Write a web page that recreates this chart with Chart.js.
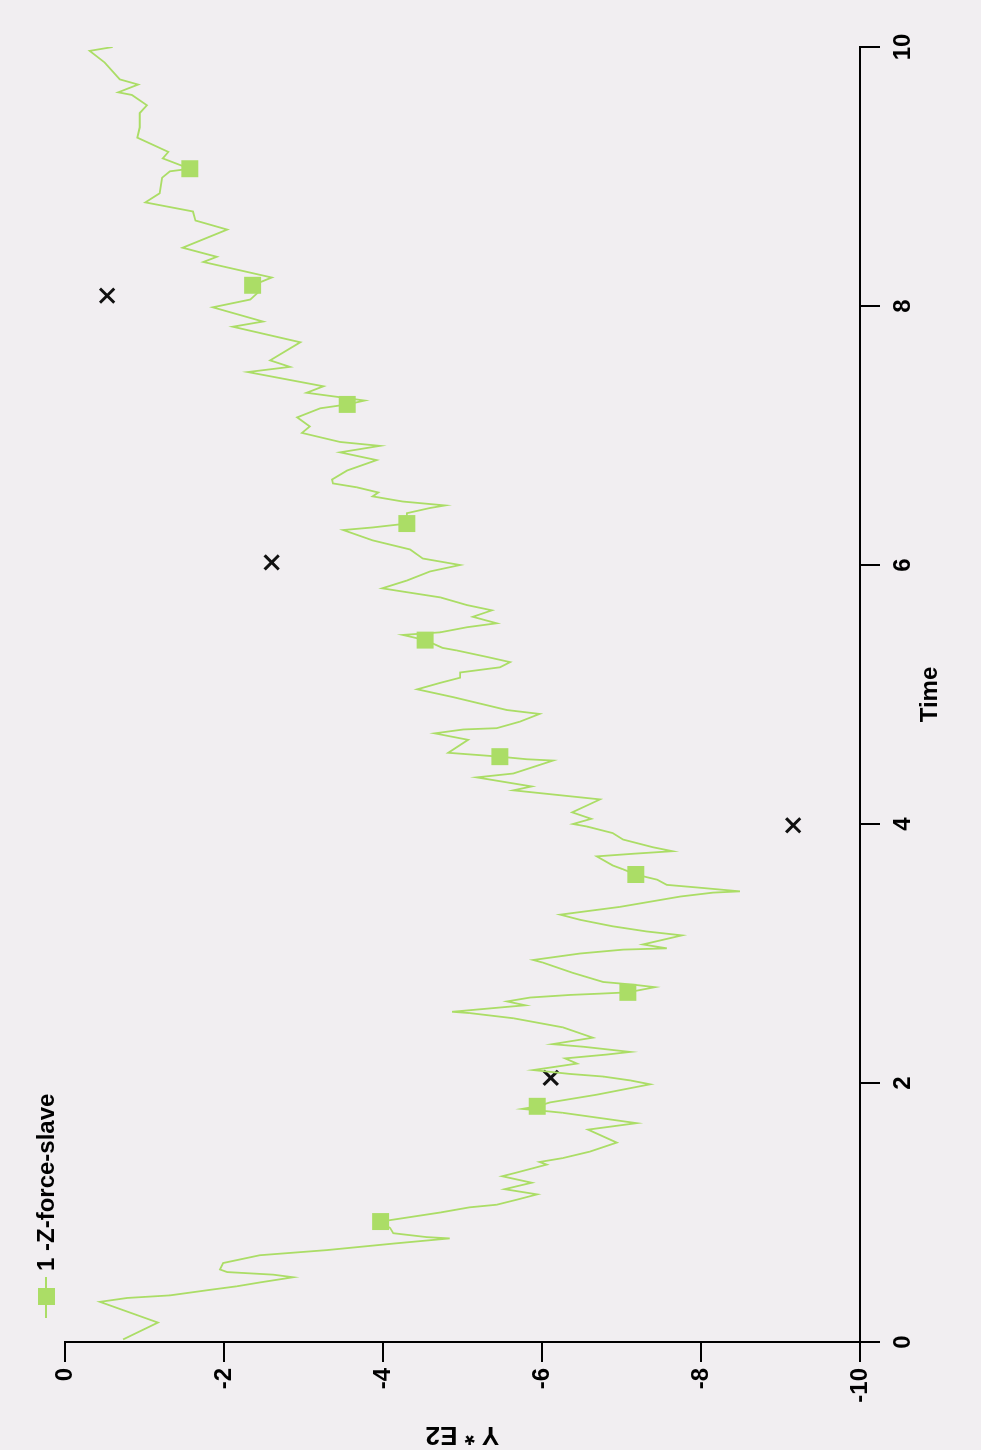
<!DOCTYPE html>
<html>
<head>
<meta charset="utf-8">
<script src="https://cdn.jsdelivr.net/npm/chart.js@4.4.1/dist/chart.umd.min.js"></script>
<style>
  html, body { margin: 0; padding: 0; background: #f1eef1; overflow: hidden; }
  /* the chart is drawn upright and then turned a quarter turn, like the scan */
  #wrap {
    position: absolute; left: 0; top: 0;
    width: 1450px; height: 981px;
    transform-origin: 0 0;
    transform: translate(0, 1450px) rotate(-90deg);
  }
</style>
</head>
<body>
<div id="wrap"><canvas id="forceChart" width="1450" height="981"></canvas></div>
<script>
// series "1 -Z-force-slave": time and Y * E2
const timeVals = [0.02, 0.15, 0.31, 0.34, 0.36, 0.40, 0.43, 0.46, 0.50, 0.52, 0.54, 0.56, 0.61, 0.67, 0.71, 0.76, 0.80, 0.81, 0.84, 0.88,
  0.93, 1.00, 1.04, 1.06, 1.10, 1.14, 1.18, 1.23, 1.28, 1.31, 1.37, 1.39, 1.42, 1.47, 1.54, 1.64, 1.69, 1.77, 1.78, 1.80,
  1.82, 1.85, 1.91, 1.99, 2.02, 2.05, 2.07, 2.10, 2.15, 2.19, 2.22, 2.24, 2.28, 2.30, 2.35, 2.43, 2.50, 2.54, 2.55, 2.59,
  2.60, 2.63, 2.66, 2.68, 2.69, 2.70, 2.74, 2.76, 2.78, 2.85, 2.93, 2.95, 3.00, 3.03, 3.04, 3.07, 3.14, 3.17, 3.21, 3.26,
  3.30, 3.36, 3.44, 3.47, 3.48, 3.51, 3.53, 3.57, 3.61, 3.65, 3.68, 3.75, 3.77, 3.79, 3.82, 3.88, 3.93, 3.98, 4.00, 4.04,
  4.09, 4.19, 4.26, 4.29, 4.36, 4.39, 4.49, 4.50, 4.52, 4.55, 4.65, 4.70, 4.73, 4.74, 4.79, 4.85, 4.88, 4.93, 4.98, 5.04,
  5.09, 5.13, 5.17, 5.19, 5.21, 5.25, 5.29, 5.34, 5.36, 5.42, 5.46, 5.48, 5.52, 5.55, 5.60, 5.65, 5.69, 5.75, 5.79, 5.82,
  5.88, 5.95, 6.00, 6.05, 6.12, 6.19, 6.27, 6.29, 6.32, 6.40, 6.44, 6.46, 6.49, 6.53, 6.56, 6.60, 6.63, 6.66, 6.73, 6.81,
  6.87, 6.92, 6.95, 7.02, 7.07, 7.14, 7.21, 7.24, 7.27, 7.33, 7.38, 7.49, 7.53, 7.58, 7.72, 7.84, 7.88, 7.99, 8.05, 8.10,
  8.16, 8.22, 8.34, 8.38, 8.45, 8.59, 8.66, 8.73, 8.80, 8.87, 8.99, 9.04, 9.06, 9.14, 9.19, 9.30, 9.38, 9.49, 9.55, 9.63,
  9.65, 9.71, 9.75, 9.88, 9.97, 10.00];
const forceVals = [-0.73, -1.17, -0.44, -0.78, -1.32, -1.79, -2.16, -2.45, -2.87, -2.62, -2.04, -1.95, -1.99, -2.45, -3.30, -4.13, -4.84, -4.55, -4.13, -4.09,
  -3.97, -4.72, -5.09, -5.43, -5.69, -5.94, -5.53, -5.87, -5.50, -5.69, -6.06, -5.97, -6.26, -6.60, -6.94, -6.58, -7.19, -6.26, -6.10, -5.75,
  -5.94, -6.10, -6.69, -7.36, -7.11, -6.77, -6.35, -5.89, -6.44, -6.29, -6.82, -7.11, -6.52, -6.13, -6.64, -6.26, -5.64, -5.09, -4.87, -5.60,
  -5.79, -5.56, -5.85, -6.35, -6.73, -7.08, -7.42, -7.14, -6.77, -6.39, -6.01, -5.89, -6.48, -7.02, -7.57, -7.27, -7.76, -7.32, -6.89, -6.48,
  -6.23, -6.98, -7.74, -8.15, -8.49, -7.95, -7.57, -7.45, -7.18, -7.02, -6.89, -6.69, -7.14, -7.64, -7.40, -7.02, -6.89, -6.57, -6.39, -6.62,
  -6.38, -6.73, -5.64, -5.87, -5.18, -5.64, -6.14, -5.81, -5.47, -4.82, -5.07, -4.65, -5.01, -5.43, -5.72, -5.97, -5.56, -5.22, -4.88, -4.43,
  -4.72, -4.97, -4.97, -5.22, -5.47, -5.60, -5.31, -4.93, -4.75, -4.53, -4.25, -4.72, -5.06, -5.43, -5.13, -5.37, -5.06, -4.72, -4.30, -3.99,
  -4.30, -4.59, -4.97, -4.50, -4.34, -3.87, -3.50, -3.87, -4.30, -4.30, -4.59, -4.78, -4.25, -3.87, -3.94, -3.67, -3.37, -3.36, -3.55, -3.92,
  -3.46, -3.96, -3.46, -2.98, -3.08, -2.92, -3.21, -3.55, -3.77, -3.04, -3.25, -2.30, -2.83, -2.58, -2.96, -2.11, -2.49, -1.86, -2.33, -2.42,
  -2.36, -2.60, -1.74, -1.91, -1.48, -2.04, -1.64, -1.61, -1.01, -1.19, -1.22, -1.32, -1.57, -1.23, -1.30, -0.91, -0.94, -0.94, -1.03, -0.84,
  -0.67, -0.92, -0.69, -0.50, -0.31, -0.60];
// times where the line carries a square marker
const markerTimes = [0.93, 1.82, 2.70, 3.61, 4.52, 5.42, 6.32, 7.24, 8.16, 9.06];

// the loose black crosses
const crossTimes = [2.04, 3.99, 6.02, 8.08];
const crossVals = [-6.11, -9.16, -2.60, -0.53];

const timeTicks = [0, 2, 4, 6, 8, 10];
const yTicks = [-10, -8, -6, -4, -2, 0];

const GREEN = '#abdd66';
const FONT = "'Liberation Sans', Arial, sans-serif";

// legend drawn in the upper left corner of the (unrotated) chart
const cornerLegend = {
  id: 'cornerLegend',
  afterDraw(chart) {
    const ctx = chart.ctx;
    const ds = chart.data.datasets[0];
    const y = 46;
    ctx.save();
    ctx.strokeStyle = ds.borderColor;
    ctx.lineWidth = 2;
    ctx.beginPath();
    ctx.moveTo(132, y);
    ctx.lineTo(173, y);
    ctx.stroke();
    ctx.fillStyle = ds.pointBackgroundColor;
    ctx.fillRect(145, y - 8, 17, 17);
    ctx.fillStyle = '#000';
    ctx.font = 'bold 24px ' + FONT;
    ctx.textBaseline = 'middle';
    ctx.fillText(ds.label, 179, y + 1);
    ctx.restore();
  }
};

let forceChart;

function renderChart() {
  const ctx = document.getElementById('forceChart').getContext('2d');

  forceChart = new Chart(ctx, {
    type: 'line',
    data: {
      datasets: [{
        label: '1 -Z-force-slave',
        data: timeVals.map((t, i) => ({ x: t, y: forceVals[i] })),
        borderColor: GREEN,
        borderWidth: 1.8,
        pointStyle: 'rect',
        pointBackgroundColor: GREEN,
        pointBorderColor: GREEN,
        pointBorderWidth: 0,
        pointRadius: c => markerTimes.includes(timeVals[c.dataIndex]) ? 12 : 0,
        tension: 0
      }, {
        label: 'points',
        type: 'scatter',
        data: crossTimes.map((t, i) => ({ x: t, y: crossVals[i] })),
        pointStyle: 'crossRot',
        pointRadius: 10,
        borderColor: '#111',
        borderWidth: 3,
        showLine: false
      }]
    },
    options: {
      responsive: false,
      animation: false,
      devicePixelRatio: 1,
      layout: { padding: { top: 65, right: 47, bottom: 0, left: 0 } },
      plugins: { legend: { display: false }, tooltip: { enabled: false } },
      scales: {
        x: {
          type: 'linear',
          min: 0, max: 10,
          afterBuildTicks: s => { s.ticks = timeTicks.map(v => ({ value: v })); },
          afterFit: s => { s.height = 121; },
          grid: { drawOnChartArea: false, color: '#000', lineWidth: 2, tickLength: 20 },
          border: { color: '#000', width: 2 },
          ticks: { color: '#000', padding: 9, maxRotation: 0, font: { family: FONT, size: 24, weight: 'bold' } },
          title: { display: true, text: 'Time', color: '#000', padding: { top: 0, bottom: 36 },
                   font: { family: FONT, size: 24, weight: 'bold', lineHeight: 1.2 } }
        },
        y: {
          min: -10, max: 0,
          afterBuildTicks: s => { s.ticks = yTicks.map(v => ({ value: v })); },
          afterFit: s => { s.width = 108; },
          grid: { drawOnChartArea: false, color: '#000', lineWidth: 2, tickLength: 20 },
          border: { color: '#000', width: 2 },
          ticks: { color: '#000', padding: 6, font: { family: FONT, size: 24, weight: 'bold' } },
          title: { display: true, text: 'Y * E2', color: '#000', padding: { top: 3, bottom: 0 },
                   font: { family: FONT, size: 26, weight: 'bold', lineHeight: 1 } }
        }
      }
    },
    plugins: [cornerLegend]
  });
}

document.addEventListener('DOMContentLoaded', renderChart);
</script>
</body>
</html>
